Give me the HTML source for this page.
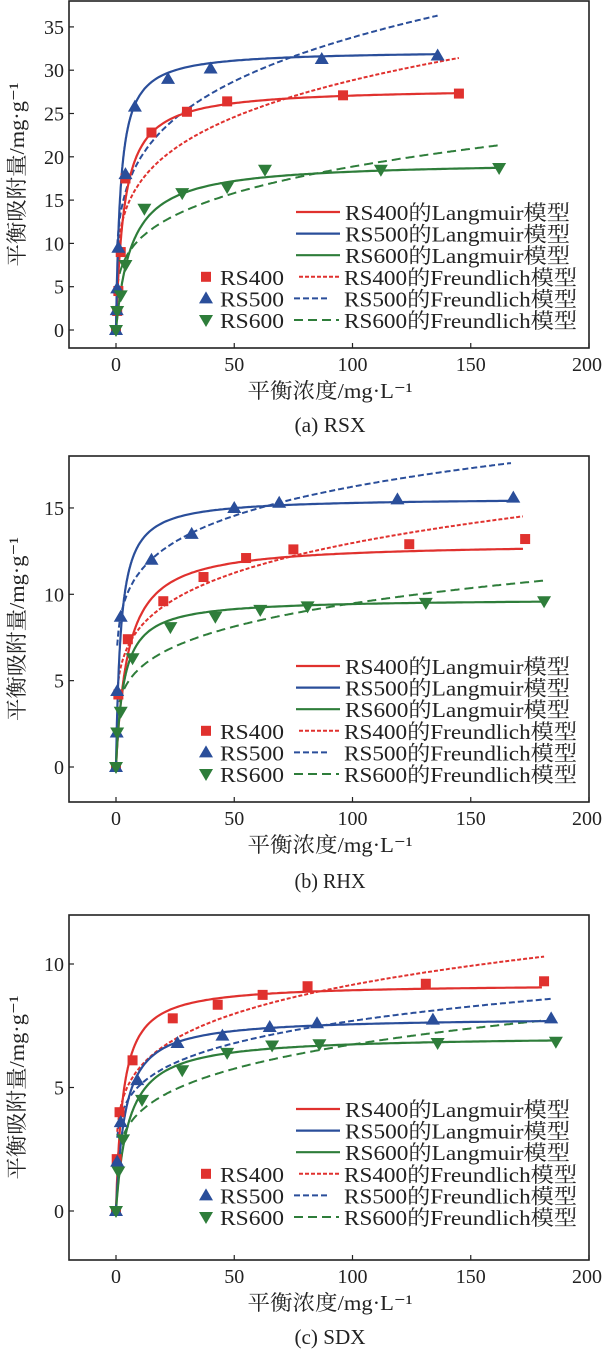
<!DOCTYPE html>
<html><head><meta charset="utf-8"><style>
html,body{margin:0;padding:0;background:#fff;}
svg text{font-family:"Liberation Serif","Noto Serif CJK SC",serif;fill:#222;}
</style></head><body>
<svg id="s" width="605" height="1354" xmlns="http://www.w3.org/2000/svg"></svg>
<script>
const S=document.getElementById('s');const NS='http://www.w3.org/2000/svg';
function el(t,a,txt){const e=document.createElementNS(NS,t);for(const k in a)e.setAttribute(k,a[k]);if(txt!==undefined)e.textContent=txt;S.appendChild(e);return e;}
const R='#e0312e',B='#2a4e9a',G='#2e7d3a';
const X0=116,XS=473/200;
function panel(p){
 const X=c=>X0+c*XS, Y=q=>p.y0-q*p.ys;
 el('rect',{x:69,y:p.top,width:520,height:p.bot-p.top,fill:'none',stroke:'#222','stroke-width':1.6});
 [0,50,100,150,200].forEach(v=>{el('line',{x1:X(v),x2:X(v),y1:p.bot,y2:p.bot-5,stroke:'#222','stroke-width':1.2});
  el('text',{x:v==200?587:X(v),y:p.bot+23,'font-size':20,'text-anchor':'middle',textLength:String(v).length*10,lengthAdjust:'spacingAndGlyphs'},v);});
 p.yt.forEach(v=>{el('line',{x1:69,x2:74,y1:Y(v),y2:Y(v),stroke:'#222','stroke-width':1.2});
  el('text',{x:64,y:Y(v)+7,'font-size':20,'text-anchor':'end',textLength:String(v).length*10,lengthAdjust:'spacingAndGlyphs'},v);});
 const cy=(p.top+p.bot)/2;
 el('text',{x:0,y:0,'font-size':21,'text-anchor':'middle',textLength:184,lengthAdjust:'spacingAndGlyphs',transform:`translate(24,${cy}) rotate(-90)`},'平衡吸附量/mg·g⁻¹');
 el('text',{x:330,y:p.bot+50,'font-size':21,'text-anchor':'middle',textLength:165,lengthAdjust:'spacingAndGlyphs'},'平衡浓度/mg·L⁻¹');
 el('text',{x:330,y:p.cap,'font-size':21,'text-anchor':'middle',textLength:71,lengthAdjust:'spacingAndGlyphs'},p.title);
 const cols=[R,B,G];
 const dash=['4,2','6,3','9,5'];
 p.F.forEach((f,i)=>{let d='';for(let c=0.5;c<=f[2];c+=0.5){const q=f[0]*Math.pow(c,f[1]);d+=(d?'L':'M')+X(c).toFixed(1)+','+Y(q).toFixed(1);}
  el('path',{d,fill:'none',stroke:cols[i],'stroke-width':2,'stroke-dasharray':dash[i]});});
 p.L.forEach((f,i)=>{let d='';for(let c=0;c<=f[2];c+=(c<10?0.1:1)){const q=f[0]*f[1]*c/(1+f[1]*c);d+=(d?'L':'M')+X(c).toFixed(1)+','+Y(q).toFixed(1);}
  el('path',{d,fill:'none',stroke:cols[i],'stroke-width':2.2});});
 function mk(i,x,y){if(i==0)el('rect',{x:x-5,y:y-5,width:10,height:10,fill:R});
  else if(i==1)el('polygon',{points:`${x},${y-7} ${x-7},${y+5} ${x+7},${y+5}`,fill:B});
  else el('polygon',{points:`${x},${y+7} ${x-7},${y-5} ${x+7},${y-5}`,fill:G});}
 p.D.forEach((pts,i)=>pts.forEach(pt=>mk(i,X(pt[0]),Y(pt[1]))));
 const ly=p.ly;const names=['RS400','RS500','RS600'];
 for(let i=0;i<3;i++){const y=ly+i*21.6;
  el('line',{x1:296,x2:340,y1:y,y2:y,stroke:cols[i],'stroke-width':2.2});
  el('text',{x:345,y:y+8,'font-size':21,textLength:225,lengthAdjust:'spacingAndGlyphs'},names[i]+'的Langmuir模型');}
 for(let i=0;i<3;i++){const y=ly+(i+3)*21.6;
  mk(i,206,y);
  el('text',{x:220,y:y+8,'font-size':21,textLength:64,lengthAdjust:'spacingAndGlyphs'},names[i]);
  el('line',{x1:i==0?299:294,x2:i==1?330:339,y1:y,y2:y,stroke:cols[i],'stroke-width':2,'stroke-dasharray':dash[i]});
  el('text',{x:344,y:y+8,'font-size':21,textLength:233,lengthAdjust:'spacingAndGlyphs'},names[i]+'的Freundlich模型');}
}
panel({top:1,bot:348,y0:330,ys:8.66,yt:[0,5,10,15,20,25,30,35],cap:432,title:'(a) RSX',ly:212,
 L:[[28,0.29,145],[32.3,0.52,136],[19.5,0.15,162]],
 F:[[10,0.23,145],[11.5,0.234,136],[5.83,0.255,163]],
 D:[[[0,0],[0.5,2.2],[1,4.5],[2,9],[4,17.5],[15,22.8],[30,25.2],[47,26.4],[96,27.1],[145,27.3]],
    [[0,0],[0.3,2.3],[0.5,4.8],[1,9.5],[4,18],[8,25.8],[22,29],[40,30.2],[87,31.3],[136,31.7]],
    [[0,0],[0.5,2.2],[2,4],[4,7.5],[12,14],[28,15.8],[47,16.5],[63,18.5],[112,18.5],[162,18.7]]]});
panel({top:456,bot:802,y0:767,ys:17.27,yt:[0,5,10,15],cap:888,title:'(b) RHX',ly:666,
 L:[[13,0.2,173],[15.6,0.49,168],[9.75,0.3,181]],
 F:[[5,0.207,172],[7.84,0.158,167],[3.44,0.22,181]],
 D:[[[0,0],[1,4.2],[5,7.4],[20,9.6],[37,11],[55,12.1],[75,12.6],[124,12.9],[173,13.2]],
    [[0,0],[0.3,2],[0.5,4.4],[2,8.7],[15,12],[32,13.5],[50,15],[69,15.3],[119,15.5],[168,15.6]],
    [[0,0],[0.5,2],[2,3.2],[7,6.3],[23,8.1],[42,8.7],[61,9.1],[81,9.3],[131,9.5],[181,9.6]]]});
panel({top:915,bot:1260,y0:1211,ys:24.7,yt:[0,5,10],cap:1344,title:'(c) SDX',ly:1109,
 L:[[9.2,0.34,181],[7.85,0.26,184],[7.1,0.19,186]],
 F:[[3.68,0.198,181],[3.36,0.18,184],[2.37,0.227,180]],
 D:[[[0,0],[0.3,2.1],[1.5,4],[7,6.1],[24,7.8],[43,8.35],[62,8.75],[81,9.1],[131,9.2],[181,9.3]],
    [[0,0],[0.5,2],[2,3.6],[9,5.3],[26,6.8],[45,7.1],[65,7.45],[85,7.6],[134,7.75],[184,7.8]],
    [[0,0],[1,1.6],[3,2.9],[11,4.5],[28,5.7],[47,6.4],[66,6.7],[86,6.75],[136,6.8],[186,6.85]]]});
</script>
</body></html>
